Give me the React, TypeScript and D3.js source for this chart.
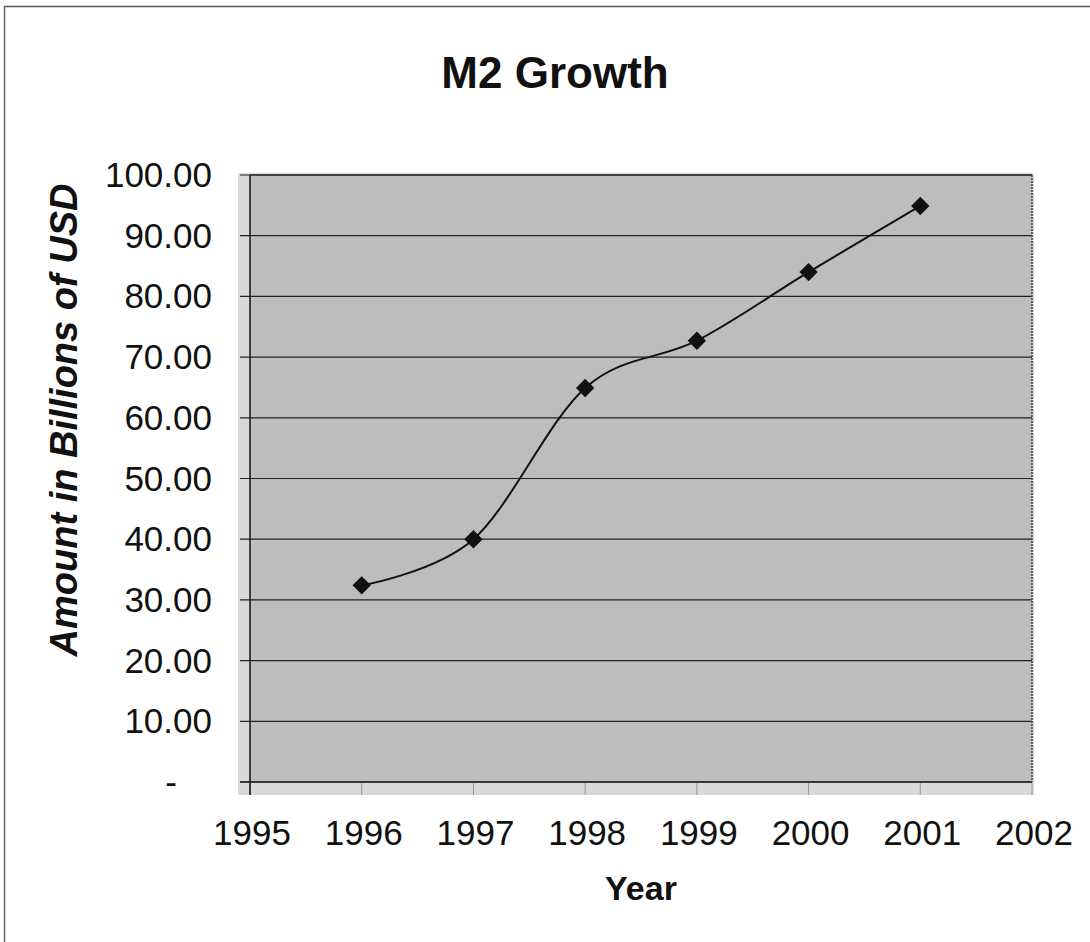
import React from "react";
import * as d3 from "d3";

const years = [1996, 1997, 1998, 1999, 2000, 2001];
const m2Values = [32.4, 40.0, 64.9, 72.7, 84.0, 94.9];
const xTicks = [1995, 1996, 1997, 1998, 1999, 2000, 2001, 2002];
const yTicks = [0, 10, 20, 30, 40, 50, 60, 70, 80, 90, 100];

const W = 1090;
const H = 942;
const left = 250;
const right = 1032;
const top = 175;
const bottom = 782;

export default function App() {
  const x = d3.scaleLinear().domain([1995, 2002]).range([left, right]);
  const y = d3.scaleLinear().domain([0, 100]).range([bottom, top]);
  const pts = years.map((yr, i) => [x(yr), y(m2Values[i])] as [number, number]);
  const line = d3.line().curve(d3.curveCatmullRom.alpha(0))(pts) || "";
  const font = "'Liberation Sans', Arial, sans-serif";
  const fmt = (v: number) => (v === 0 ? "-" : v.toFixed(2));
  return (
    <svg
      width={W}
      height={H}
      style={{ position: "absolute", left: 0, top: 0, background: "#fff" }}
      fontFamily={font}
    >
      {/* outer frame (left and top only visible) */}
      <line x1={4} y1={6.5} x2={W} y2={6.5} stroke="#555" strokeWidth={1.5} />
      <line x1={4.5} y1={6} x2={4.5} y2={H} stroke="#666" strokeWidth={1.5} />

      <text x={555} y={88} textAnchor="middle" fontSize={44} fontWeight="bold" fill="#111">
        M2 Growth
      </text>

      {/* light margin around plot */}
      <rect x={238} y={173} width={796} height={622} fill="#d9d9d9" />
      {/* plot area */}
      <rect x={left} y={top} width={right - left} height={bottom - top} fill="#bdbdbd" />

      {/* gridlines + y ticks */}
      {yTicks.map((t) => (
        <line key={"g" + t} x1={240} x2={right} y1={y(t)} y2={y(t)} stroke="#222" strokeWidth={1.2} />
      ))}
      {/* x ticks */}
      {xTicks.map((t) => (
        <line key={"xt" + t} x1={x(t)} x2={x(t)} y1={bottom} y2={795} stroke="#999" strokeWidth={1} />
      ))}
      {/* axes */}
      <line x1={left} x2={left} y1={top} y2={795} stroke="#111" strokeWidth={1.5} />
      <line x1={right} x2={right} y1={top} y2={bottom} stroke="#444" strokeWidth={1.5} strokeDasharray="2,1" />
      <line x1={left} x2={right} y1={top} y2={top} stroke="#333" strokeWidth={1.5} />
      <line x1={240} x2={right} y1={bottom} y2={bottom} stroke="#222" strokeWidth={1.5} />

      {/* y tick labels */}
      {yTicks.map((t) => (
        <text
          key={"yl" + t}
          x={t === 0 ? 177 : 212}
          y={y(t) + 12}
          textAnchor="end"
          fontSize={35}
          fill="#111"
        >
          {fmt(t)}
        </text>
      ))}
      {/* x tick labels */}
      {xTicks.map((t) => (
        <text key={"xl" + t} x={x(t) + 2} y={845} textAnchor="middle" fontSize={35} fill="#111">
          {t}
        </text>
      ))}

      {/* series */}
      <path d={line} fill="none" stroke="#111" strokeWidth={2} />
      {pts.map(([px, py], i) => (
        <rect
          key={"m" + i}
          x={px - 6.5}
          y={py - 6.5}
          width={13}
          height={13}
          fill="#111"
          transform={`rotate(45 ${px} ${py})`}
        />
      ))}

      <text x={641} y={900} textAnchor="middle" fontSize={34} fontWeight="bold" fill="#111">
        Year
      </text>
      <text
        transform={`translate(77 420) rotate(-90)`}
        textAnchor="middle"
        fontSize={38}
        fontWeight="bold"
        fontStyle="italic"
        fill="#111"
      >
        Amount in Billions of USD
      </text>
    </svg>
  );
}
